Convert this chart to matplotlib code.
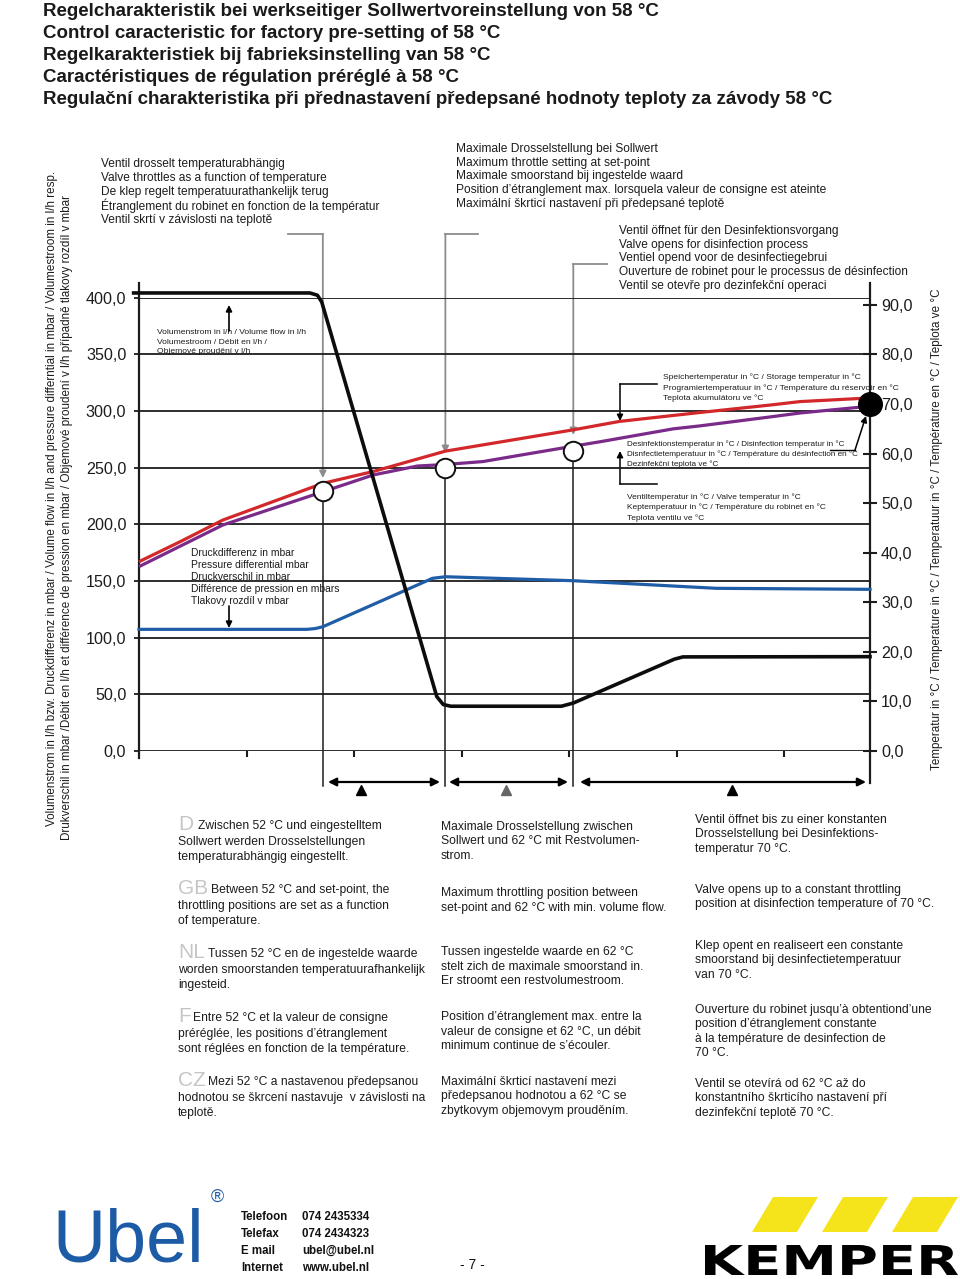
import matplotlib
matplotlib.use("Agg")
import matplotlib.pyplot as plt
import numpy as np
from matplotlib import font_manager
from matplotlib.textpath import TextPath
from matplotlib.patches import PathPatch, Polygon
from matplotlib.font_manager import FontProperties
from matplotlib.transforms import Affine2D

W, H = 960, 1279

# ---- data (x in tick units, left axis l/h / mbar, right axis degC)
flow_x = [-0.05, 1.59, 1.66, 1.70, 2.77, 2.83, 2.90, 3.93, 4.04, 4.98, 5.06, 6.80]
flow_lh = [404.0, 404.0, 402.0, 396.0, 48.0, 41.0, 39.5, 39.5, 42.3, 81.0, 83.0, 83.2]

pressure_x = [0.0, 1.56, 1.64, 1.71, 2.73, 2.85, 4.04, 5.37, 6.80]
pressure_mbar = [107.3, 107.3, 108.0, 109.6, 152.3, 153.7, 150.2, 143.5, 142.6]

storage_x = [0.0, 0.38, 0.78, 1.71, 2.18, 2.85, 4.04, 4.47, 5.22, 5.87, 6.15, 6.77]
storage_c = [38.2, 42.2, 46.6, 54.0, 56.4, 60.5, 64.8, 66.5, 68.3, 69.8, 70.5, 71.2]

disinf_x = [0.0, 0.78, 1.71, 2.18, 2.59, 2.85, 3.20, 3.55, 4.04, 4.29, 4.97, 5.22, 5.87, 6.15, 6.77]
disinf_c = [37.2, 45.6, 52.3, 55.7, 57.5, 57.8, 58.4, 59.7, 61.5, 62.4, 65.0, 65.6, 67.4, 68.2, 69.5]

ring_x = [1.71, 2.85, 4.04]
ring_c = [52.4, 57.1, 60.6]
target_x = [6.8]
target_c = [70.0]

left_ticks = [0, 50, 100, 150, 200, 250, 300, 350, 400]
right_ticks = [0, 10, 20, 30, 40, 50, 60, 70, 80, 90]
x_ticks = [1, 2, 3, 4, 5, 6]

title_lines = [
    "Regelcharakteristik bei werkseitiger Sollwertvoreinstellung von 58 °C",
    "Control caracteristic for factory pre-setting of 58 °C",
    "Regelkarakteristiek bij fabrieksinstelling van 58 °C",
    "Caractéristiques de régulation préréglé à 58 °C",
    "Regulační charakteristika při přednastavení předepsané hodnoty teploty za závody 58 °C",
]

plt.rcParams['font.family'] = ['Liberation Sans', 'DejaVu Sans']
installed = {f.name for f in font_manager.fontManager.ttflist}
if 'Liberation Sans Narrow' in installed:
    NARROW = ['Liberation Sans Narrow', 'DejaVu Sans']
    nscale = 1.0
else:
    NARROW = ['Liberation Sans', 'DejaVu Sans']
    nscale = 0.82
INK = '#1c1c1c'
TICK_FS = 12.5 if nscale == 1.0 else 11.6

fig = plt.figure(figsize=(9.6, 12.79), dpi=100)
fig.patch.set_facecolor('white')

# page layer in pixel coordinates
page = fig.add_axes([0, 0, 1, 1])
page.set_xlim(0, W)
page.set_ylim(H, 0)
page.axis('off')

# ---- chart axes
ax = fig.add_axes([139 / W, 1 - 751 / H, 731 / W, 453.5 / H])
ax.set_xlim(0, 6.8)
ax.set_ylim(0, 400)
ax.patch.set_visible(False)
for s in ax.spines.values():
    s.set_visible(False)
ax.set_yticks(left_ticks)
ax.set_yticklabels([f"{v:.1f}".replace('.', ',') for v in left_ticks],
                   fontfamily=NARROW, fontsize=TICK_FS, color=INK)
ax.yaxis.grid(True, color=INK, lw=1.3)
ax.set_axisbelow(True)
ax.tick_params(axis='y', direction='out', length=3.6, width=1.3, color=INK, pad=5.5)
ax.set_xticks(x_ticks)
ax.set_xticklabels([])
ax.tick_params(axis='x', direction='out', length=4.5, width=1.5, color=INK)

ax2 = ax.twinx()
ax2.set_ylim(0, 91.5)
for s in ax2.spines.values():
    s.set_visible(False)
ax2.set_yticks(right_ticks)
ax2.set_yticklabels([f"{v:.1f}".replace('.', ',') for v in right_ticks],
                    fontfamily=NARROW, fontsize=TICK_FS, color=INK)
ax2.tick_params(axis='y', direction='inout', length=10, width=1.5, color=INK, pad=3)

# curves
ax2.plot(storage_x, storage_c, color='#d2272b', lw=2.3, clip_on=False, solid_capstyle='butt')
ax2.plot(disinf_x, disinf_c, color='#7a2a88', lw=2.3, clip_on=False, solid_capstyle='butt')
ax2.plot(pressure_x, pressure_mbar, color='#1f5ea6', lw=2.3, clip_on=False,
         transform=ax.transData, solid_joinstyle='round')
ax2.plot(flow_x, flow_lh, color='#0d0d0d', lw=2.6, clip_on=False,
         transform=ax.transData, solid_joinstyle='round')

# ---- page decorations (pixel coordinates)
def px(x):
    return 139 + x * 107.5

def hline(x0, x1, y, **kw):
    page.plot([x0, x1], [y, y], **kw)

def vline(x, y0, y1, **kw):
    page.plot([x, x], [y0, y1], **kw)

def arrow(x0, y0, x1, y1, color='k', lw=1.1, ms=9, style='-|>'):
    page.annotate('', xy=(x1, y1), xytext=(x0, y0),
                  arrowprops=dict(arrowstyle=style, color=color, lw=lw,
                                  mutation_scale=ms, shrinkA=0, shrinkB=0))

# axis lines
vline(139, 283, 758, color=INK, lw=1.6)
vline(870, 283, 783, color=INK, lw=1.6)

# marker lines (gray above, black below)
GRAY = '#8c8c8c'
marker_tops = [(288, 234, 478), (478, 234, 453), (607, 264, 435)]
for xr, cr, (hx, ty, tip) in zip(ring_x, ring_c, marker_tops):
    xp = px(xr)
    hline(xp, hx, ty, color=GRAY, lw=1.3)
    arrow(xp, ty, xp, tip, color=GRAY, lw=1.3, ms=10)
    yc = 751 - cr / 91.5 * 453.5
    vline(xp, yc, 786, color=INK, lw=1.1, zorder=1)

ax2.plot(ring_x, ring_c, 'o', ms=14, mfc='white', mec='#111', mew=1.4, clip_on=False, zorder=5)
ax2.plot(target_x, target_c, 'o', ms=17, color='black', clip_on=False, zorder=5)

# range arrows under the chart
for x0, x1 in [(328, 440), (449, 568), (580, 866)]:
    arrow(x0, 782, x1, 782, style='<|-|>', lw=1.6, ms=12)
for xt, col in [(361, 'k'), (506, '#666666'), (732, 'k')]:
    page.plot(xt, 790, marker='^', ms=7, color=col)

# annotation text blocks
def block(x, ys, lines, size, family=None, color=INK):
    for y, t in zip(ys, lines):
        page.text(x, y, t, fontsize=size, color=color, va='center', ha='left',
                  fontfamily=family if family else ['Liberation Sans', 'DejaVu Sans'])

block(101, [164, 178, 192, 206, 220], [
    "Ventil drosselt temperaturabhängig",
    "Valve throttles as a function of temperature",
    "De klep regelt temperatuurathankelijk terug",
    "Étranglement du robinet en fonction de la températur",
    "Ventil skrtí v závislosti na teplotě"], 8.6)
block(456, [149, 163, 176, 190, 204], [
    "Maximale Drosselstellung bei Sollwert",
    "Maximum throttle setting at set-point",
    "Maximale smoorstand bij ingestelde waard",
    "Position d’étranglement max. lorsquela valeur de consigne est ateinte",
    "Maximální škrticí nastavení při předepsané teplotě"], 8.65)
block(619, [231, 245, 258, 272, 286], [
    "Ventil öffnet für den Desinfektionsvorgang",
    "Valve opens for disinfection process",
    "Ventiel opend voor de desinfectiegebrui",
    "Ouverture de robinet pour le processus de désinfection",
    "Ventil se otevře pro dezinfekční operaci"], 8.6)
block(157, [332, 342, 351.5], [
    "Volumenstrom in l/h / Volume flow in l/h",
    "Volumestroom / Débit en l/h /",
    "Objemové proudění v l/h"], 6.1)
arrow(229, 331, 229, 305, lw=1.2, ms=9)
block(191, [553, 565, 577, 589, 601], [
    "Druckdifferenz in mbar",
    "Pressure differential mbar",
    "Druckverschil in mbar",
    "Différence de pression en mbars",
    "Tlakovy rozdíl v mbar"], 7.4)
arrow(229, 606, 229, 628, lw=1.2, ms=9)
block(663, [377.5, 388, 398.5], [
    "Speichertemperatur in °C / Storage temperatur in °C",
    "Programiertemperatuur in °C / Température du réservoir en °C",
    "Teplota akumulátoru ve °C"], 6.1)
hline(657, 620, 384, color='k', lw=1.1)
arrow(620, 384, 620, 421, lw=1.1, ms=9)
block(627, [444, 454, 464], [
    "Desinfektionstemperatur in °C / Disinfection temperatur in °C",
    "Disnfectietemperatuur in °C / Température du désinfection en °C",
    "Dezinfekční teplota ve °C"], 5.9)
hline(830, 855, 450, color='k', lw=1.0)
arrow(855, 450, 866, 416, lw=1.1, ms=9)
block(627, [497, 507.5, 518], [
    "Ventiltemperatur in °C / Valve temperatur in °C",
    "Keptemperatuur in °C / Température du robinet en °C",
    "Teplota ventilu ve °C"], 6.0)
hline(657, 620, 484, color='k', lw=1.1)
arrow(620, 484, 620, 451, lw=1.1, ms=9)

# rotated axis titles
page.text(52, 499, "Volumenstrom in l/h bzw. Druckdifferenz in mbar / Volume flow in l/h and pressure "
          "differntial in mbar / Volumestroom in l/h resp.", rotation=90, fontsize=8.4,
          ha='center', va='center', color=INK)
page.text(67, 518, "Drukverschil in mbar /Débit en l/h et différence de pression en mbar / "
          "Objemové proudení v l/h případně tlakovy rozdíl v mbar", rotation=90, fontsize=8.4,
          ha='center', va='center', color=INK)
page.text(937, 529, "Temperatur in °C / Temperature in °C / Temperatuur in °C / "
          "Température en °C / Teplota ve °C", rotation=90, fontsize=8.4,
          ha='center', va='center', color=INK)

# title
for i, t in enumerate(title_lines):
    page.text(43, 11 + i * 22, t, fontsize=13.5, fontweight='bold', color='#1a1a1a',
              va='center', ha='left')

# explanatory text columns
langs = ['D', 'GB', 'NL', 'F', 'CZ']
lang_text_x = [198, 211, 208, 193, 208]
col1 = [
    ["Zwischen 52 °C und eingestelltem", "Sollwert werden Drosselstellungen",
     "temperaturabhängig eingestellt."],
    ["Between 52 °C and set-point, the", "throttling positions are set as a function",
     "of temperature."],
    ["Tussen 52 °C en de ingestelde waarde", "worden smoorstanden temperatuurafhankelijk",
     "ingesteid."],
    ["Entre 52 °C et la valeur de consigne", "préréglée, les positions d’étranglement",
     "sont réglées en fonction de la température."],
    ["Mezi 52 °C a nastavenou předepsanou", "hodnotou se škrcení nastavuje  v závislosti na",
     "teplotě."],
]
col1_y = [826, 890, 954, 1018, 1082]
col2 = [
    ["Maximale Drosselstellung zwischen", "Sollwert und 62 °C mit Restvolumen-", "strom."],
    ["Maximum throttling position between", "set-point and 62 °C with min. volume flow."],
    ["Tussen ingestelde waarde en 62 °C", "stelt zich de maximale smoorstand in.",
     "Er stroomt een restvolumestroom."],
    ["Position d’étranglement max. entre la", "valeur de consigne et 62 °C, un débit",
     "minimum continue de s’écouler."],
    ["Maximální škrticí nastavení mezi", "předepsanou hodnotou a 62 °C se",
     "zbytkovym objemovym prouděním."],
]
col2_y = [827, 893, 952, 1017, 1082]
col3 = [
    ["Ventil öffnet bis zu einer konstanten", "Drosselstellung bei Desinfektions-",
     "temperatur 70 °C."],
    ["Valve opens up to a constant throttling", "position at disinfection temperature of 70 °C."],
    ["Klep opent en realiseert een constante", "smoorstand bij desinfectietemperatuur",
     "van 70 °C."],
    ["Ouverture du robinet jusqu’à obtentiond’une", "position d’étranglement constante",
     "à la température de desinfection de", "70 °C."],
    ["Ventil se otevírá od 62 °C až do", "konstantního škrticího nastavení pří",
     "dezinfekční teplotě 70 °C."],
]
col3_y = [820, 890, 946, 1010, 1084]

BODY = 10.6 * nscale if nscale < 1 else 9.3
for lang, tx, lines, y0 in zip(langs, lang_text_x, col1, col1_y):
    page.text(178, y0 - 1, lang, fontsize=15, color='#c6c6c6', va='center', ha='left',
              fontfamily=NARROW)
    page.text(tx, y0, lines[0], fontsize=BODY, color=INK, va='center', fontfamily=NARROW)
    block(178, [y0 + 16, y0 + 31], lines[1:], BODY, family=NARROW)
for lines, y0 in zip(col2, col2_y):
    block(441, [y0 + 14.5 * k for k in range(len(lines))], lines, BODY, family=NARROW)
for lines, y0 in zip(col3, col3_y):
    block(695, [y0 + 14.5 * k for k in range(len(lines))], lines, BODY, family=NARROW)

# ---- footer
page.text(52, 1276, "Ubel", fontsize=53, color='#1d5ba6', fontfamily=NARROW,
          va='bottom', ha='left')
page.text(217, 1197, "®", fontsize=13, color='#1d5ba6', ha='center', va='center')
contacts = [("Telefoon", "074 2435334"), ("Telefax", "074 2434323"),
            ("E mail", "ubel@ubel.nl"), ("Internet", "www.ubel.nl")]
for i, (k, v) in enumerate(contacts):
    y = 1217 + i * 17
    page.text(241, y, k, fontsize=8.3, fontweight='bold', color='#111', va='center')
    page.text(302, y, v, fontsize=8.3, fontweight='bold', color='#111', va='center')
page.text(472, 1265, "- 7 -", fontsize=10, color='#111', ha='center', va='center')

for i in range(3):
    dx = i * 70
    page.add_patch(Polygon([(752 + dx, 1232), (797 + dx, 1232), (818 + dx, 1197), (773 + dx, 1197)],
                           closed=True, color='#f5e41c', lw=0))
tp = TextPath((0, 0), "KEMPER", size=100, prop=FontProperties(family='DejaVu Sans', weight='bold'))
bb = tp.get_extents()
tr = Affine2D().translate(-bb.x0, -bb.y0).scale(253 / bb.width, -30 / bb.height).translate(705, 1275)
page.add_patch(PathPatch(tr.transform_path(tp), color='black', lw=0))

fig.savefig("out.png", dpi=100, facecolor='white')
